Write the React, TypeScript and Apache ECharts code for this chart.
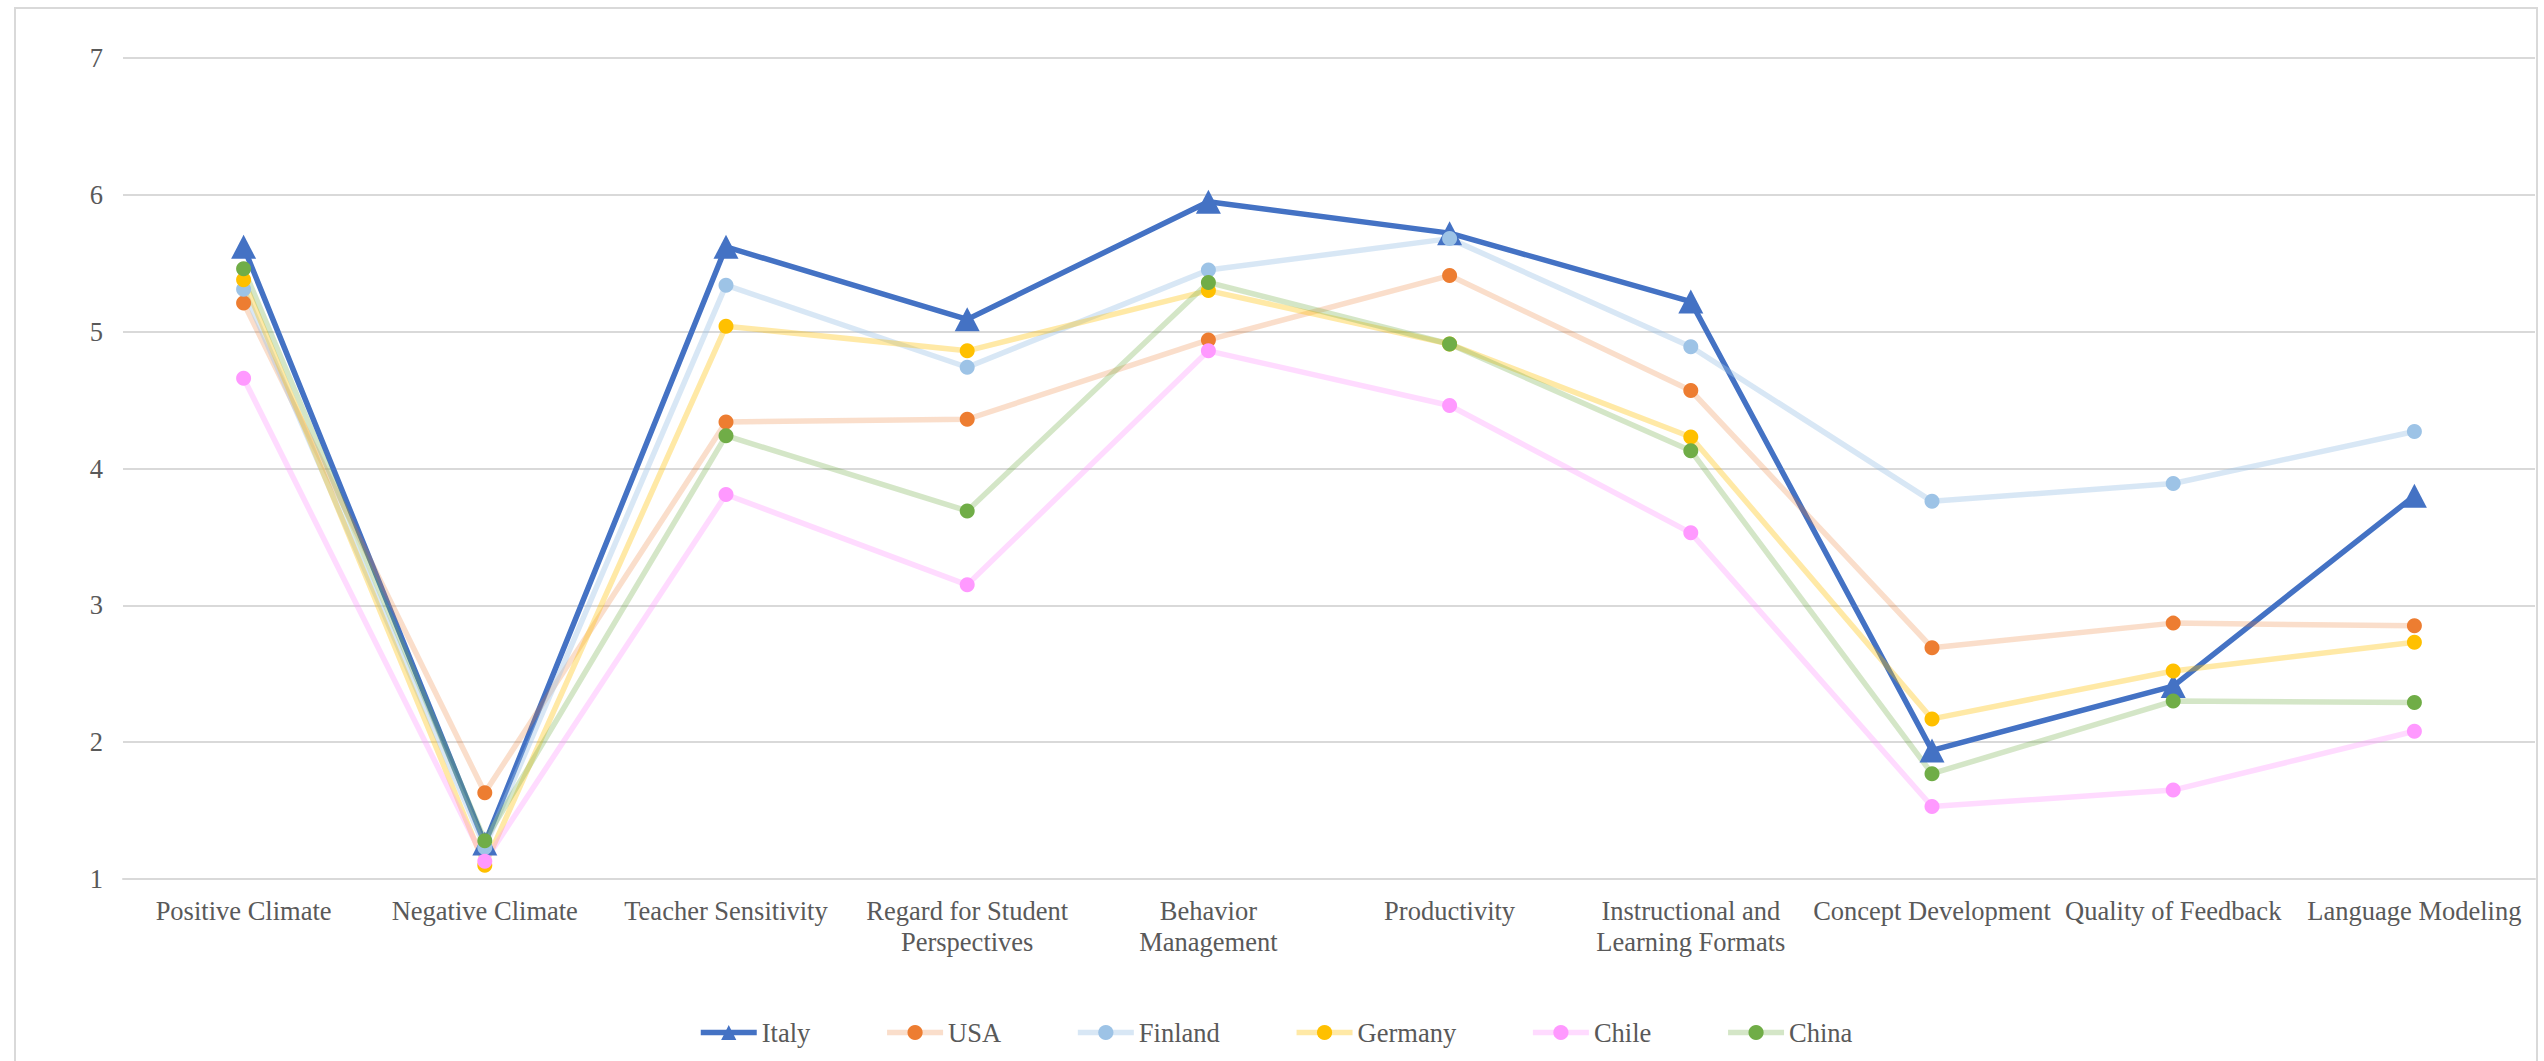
import React, { useEffect, useRef } from "react";
import * as echarts from "echarts";

const categories = [
  "Positive Climate",
  "Negative Climate",
  "Teacher Sensitivity",
  "Regard for Student Perspectives",
  "Behavior Management",
  "Productivity",
  "Instructional and Learning Formats",
  "Concept Development",
  "Quality of Feedback",
  "Language Modeling",
];
const labelBreaks = ["Regard for Student", "Behavior", "Instructional and"];

const yTicks = { min: 1, max: 7, interval: 1 };

const italy = [5.62, 1.26, 5.62, 5.09, 5.95, 5.72, 5.22, 1.94, 2.41, 3.8];
const usa = [5.21, 1.63, 4.34, 4.36, 4.94, 5.41, 4.57, 2.69, 2.87, 2.85];
const finland = [5.31, 1.23, 5.34, 4.74, 5.45, 5.68, 4.89, 3.76, 3.89, 4.27];
const germany = [5.38, 1.1, 5.04, 4.86, 5.3, 4.91, 4.23, 2.17, 2.52, 2.73];
const chile = [4.66, 1.13, 3.81, 3.15, 4.86, 4.46, 3.53, 1.53, 1.65, 2.08];
const china = [5.46, 1.28, 4.24, 3.69, 5.36, 4.91, 4.13, 1.77, 2.3, 2.29];

const seriesDefs = [
  { name: "Italy", data: italy, marker: "#4472C4", line: "#4472C4", symbol: "triangle", size: [25, 24] },
  { name: "USA", data: usa, marker: "#ED7D31", line: "rgba(237,125,49,0.25)", symbol: "circle", size: 15 },
  { name: "Finland", data: finland, marker: "#9DC3E6", line: "rgba(157,195,230,0.4)", symbol: "circle", size: 15 },
  { name: "Germany", data: germany, marker: "#FFC000", line: "rgba(255,192,0,0.35)", symbol: "circle", size: 15 },
  { name: "Chile", data: chile, marker: "#FF99FF", line: "rgba(255,153,255,0.35)", symbol: "circle", size: 15 },
  { name: "China", data: china, marker: "#70AD47", line: "rgba(112,173,71,0.3)", symbol: "circle", size: 15 },
];

const FONT = "'Liberation Serif', 'Times New Roman', serif";
const TEXT = "#595959";
const GRID = "#d9d9d9";
const FS = 26.5;

export default function App() {
  const ref = useRef<HTMLDivElement>(null);
  useEffect(() => {
    document.body.style.margin = "0";
    if (!ref.current) return;
    const chart = echarts.init(ref.current, undefined, { renderer: "svg" });
    chart.setOption({
      animation: false,
      backgroundColor: "#ffffff",
      graphic: [
        {
          type: "rect",
          shape: { x: 15, y: 8, width: 2522, height: 1100 },
          style: { fill: "none", stroke: GRID, lineWidth: 2 },
          silent: true,
          z: -10,
        },
      ],
      grid: { left: 123, right: 9, top: 58, bottom: 182 },
      legend: {
        left: 693,
        top: 1014,
        itemWidth: 56,
        itemHeight: 19,
        itemGap: 74,
        lineStyle: { width: 5.5 },
        textStyle: { fontFamily: FONT, fontSize: FS, color: TEXT },
        data: seriesDefs.map((s) => s.name),
      },
      xAxis: {
        type: "category",
        data: categories,
        boundaryGap: true,
        axisLine: { show: true, lineStyle: { color: GRID, width: 2 } },
        axisTick: { show: false },
        splitLine: { show: false },
        axisLabel: {
          interval: 0,
          margin: 16,
          fontFamily: FONT,
          fontSize: FS,
          lineHeight: 31,
          color: TEXT,
          formatter: (v: string) => {
            for (const b of labelBreaks) {
              if (v.startsWith(b + " ")) return b + "\n" + v.slice(b.length + 1);
            }
            return v;
          },
        },
      },
      yAxis: {
        type: "value",
        min: yTicks.min,
        max: yTicks.max,
        interval: yTicks.interval,
        axisLine: { show: false },
        axisTick: { show: false },
        splitLine: { show: true, lineStyle: { color: GRID, width: 2 } },
        axisLabel: { margin: 20, fontFamily: FONT, fontSize: FS, color: TEXT },
      },
      series: seriesDefs.map((s) => ({
        name: s.name,
        type: "line",
        data: s.data,
        symbol: s.symbol,
        symbolSize: s.size,
        showSymbol: true,
        lineStyle: { color: s.line, width: 5.5, join: "round" },
        itemStyle: { color: s.marker, borderWidth: 0 },
        emphasis: { disabled: true },
      })),
    });
    return () => chart.dispose();
  }, []);
  return <div ref={ref} style={{ width: 2544, height: 1061 }} />;
}
